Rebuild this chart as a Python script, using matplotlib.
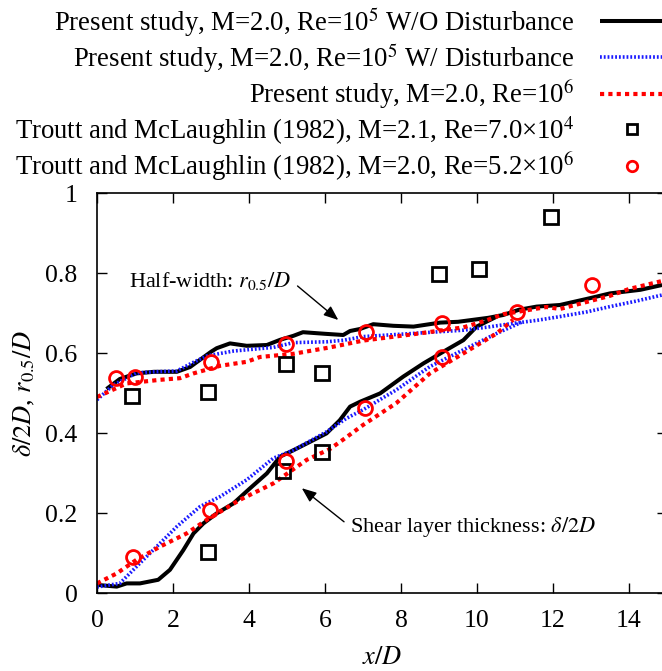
import matplotlib
matplotlib.use('Agg')
import matplotlib.pyplot as plt

plt.rcParams['font.family'] = 'Liberation Serif'
plt.rcParams['mathtext.fontset'] = 'stix'

# Present study, W/O disturbance (black solid)
bk_half_x = [0.25, 0.6, 1.04, 1.5, 2.1, 2.45, 2.71, 3.0, 3.15, 3.5, 3.94, 4.47, 4.82, 5.17, 5.42, 6.0, 6.48, 6.66, 6.92, 7.27, 7.8, 8.33, 9.03, 9.5, 9.9, 10.3, 10.69, 11.1, 11.57, 12.18, 12.97, 13.5, 14.3, 14.87]
bk_half_y = [0.51, 0.535, 0.549, 0.553, 0.553, 0.565, 0.583, 0.603, 0.612, 0.624, 0.618, 0.62, 0.633, 0.643, 0.652, 0.648, 0.645, 0.655, 0.66, 0.672, 0.668, 0.666, 0.676, 0.678, 0.683, 0.688, 0.695, 0.708, 0.716, 0.72, 0.737, 0.749, 0.758, 0.77]
bk_shear_x = [0.03, 0.52, 0.78, 1.13, 1.61, 1.92, 2.27, 2.54, 2.8, 3.15, 3.59, 4.03, 4.47, 4.82, 5.17, 5.69, 6.04, 6.39, 6.66, 6.92, 7.45, 8.06, 8.59, 9.11, 9.64, 9.99, 10.52]
bk_shear_y = [0.02, 0.016, 0.024, 0.024, 0.033, 0.058, 0.107, 0.149, 0.174, 0.199, 0.224, 0.262, 0.299, 0.341, 0.357, 0.382, 0.399, 0.432, 0.466, 0.478, 0.499, 0.541, 0.574, 0.603, 0.632, 0.666, 0.691]

# Present study, W/ disturbance (blue dotted)
bl_half_x = [0.0, 0.43, 1.04, 1.5, 2.1, 2.5, 2.9, 3.6, 4.64, 5.17, 6.04, 6.5, 7.0, 8.33, 9.64, 10.3, 10.95, 11.6, 12.18, 12.9, 13.5, 14.2, 14.87]
bl_half_y = [0.483, 0.52, 0.55, 0.553, 0.555, 0.575, 0.593, 0.605, 0.614, 0.626, 0.628, 0.632, 0.641, 0.649, 0.657, 0.665, 0.674, 0.682, 0.691, 0.703, 0.716, 0.73, 0.745]
bl_shear_x = [0.0, 0.6, 1.04, 1.57, 2.1, 2.71, 3.24, 3.94, 4.64, 5.17, 6.04, 6.57, 7.0, 7.88, 8.76, 9.64, 10.52, 11.2]
bl_shear_y = [0.015, 0.024, 0.066, 0.116, 0.166, 0.216, 0.241, 0.283, 0.337, 0.357, 0.403, 0.437, 0.458, 0.508, 0.566, 0.608, 0.649, 0.678]

# Present study, Re=1e6 (red dotted)
rd_half_x = [0.0, 0.78, 1.66, 2.18, 2.54, 3.24, 3.94, 4.29, 5.17, 6.13, 7.0, 8.33, 9.64, 10.2, 10.69, 11.83, 12.18, 13.5, 14.0, 14.87]
rd_half_y = [0.49, 0.524, 0.533, 0.537, 0.549, 0.568, 0.578, 0.59, 0.598, 0.614, 0.631, 0.647, 0.664, 0.68, 0.697, 0.715, 0.71, 0.743, 0.76, 0.78]
rd_shear_x = [0.0, 0.52, 1.04, 1.66, 2.36, 2.89, 3.76, 4.64, 5.52, 6.13, 6.5, 7.0, 7.88, 8.76, 9.64, 10.52, 10.95]
rd_shear_y = [0.024, 0.049, 0.083, 0.116, 0.149, 0.183, 0.233, 0.274, 0.333, 0.36, 0.385, 0.42, 0.475, 0.549, 0.599, 0.649, 0.683]

# Troutt and McLaughlin (1982)
tm21_x = [0.91, 2.93, 4.97, 5.91, 9.01, 10.04, 11.95, 2.93, 4.89, 5.91]
tm21_y = [0.492, 0.502, 0.572, 0.551, 0.797, 0.809, 0.941, 0.103, 0.305, 0.352]
tm20_x = [0.5, 1.0, 2.99, 4.97, 7.08, 9.08, 11.04, 13.02, 0.96, 2.97, 4.97, 7.05, 9.08]
tm20_y = [0.537, 0.539, 0.578, 0.622, 0.653, 0.674, 0.703, 0.769, 0.091, 0.2075, 0.331, 0.463, 0.591]

labels = ['Present study, M=2.0, Re=10$^5$ W/O Disturbance',
          'Present study, M=2.0, Re=10$^5$ W/ Disturbance',
          'Present study, M=2.0, Re=10$^6$',
          'Troutt and McLaughlin (1982), M=2.1, Re=7.0\u00d710$^4$',
          'Troutt and McLaughlin (1982), M=2.0, Re=5.2\u00d710$^6$']

fig = plt.figure(figsize=(6.62, 6.71), dpi=100)
# axes runs a little past the right edge, as in the cropped original
ax = fig.add_axes([97 / 662, 78 / 671, 570 / 662, 400 / 671])

blk = dict(color='black', lw=2.9, solid_capstyle='butt')
blu = dict(color='#1a1aff', lw=2.6, linestyle=(0, (0.5, 0.55)))
red = dict(color='#ff0000', lw=3.0, linestyle=(0, (1, 1)))

ax.plot(bk_half_x, bk_half_y, label=labels[0], **blk)
ax.plot(bk_shear_x, bk_shear_y, **blk)
ax.plot(bl_half_x, bl_half_y, label=labels[1], **blu)
ax.plot(bl_shear_x, bl_shear_y, **blu)
ax.plot(rd_half_x, rd_half_y, label=labels[2], **red)
ax.plot(rd_shear_x, rd_shear_y, **red)
ax.plot(tm21_x, tm21_y, 's', ms=9.5, mfc='none', mec='black', mew=2.0, label=labels[3])
ax.plot(tm20_x, tm20_y, 'o', ms=10, mfc='none', mec='red', mew=2.0, label=labels[4])

ax.set_xlim(0, 15)
ax.set_ylim(0, 1)
ax.set_xticks(range(0, 15, 2))
ax.set_yticks([0, 0.2, 0.4, 0.6, 0.8, 1])
ax.set_yticklabels(['0', '0.2', '0.4', '0.6', '0.8', '1'])
ax.tick_params(direction='in', length=7.5, width=1, top=True, right=True, labelsize=18.5)
ax.tick_params(axis='x', pad=12)
ax.tick_params(axis='y', pad=14)
for s in ax.spines.values():
    s.set_linewidth(1.2)

ax.set_xlabel('$x/D$', fontsize=19)
ax.xaxis.set_label_coords(0.5, -0.135)
ax.set_ylabel(r'$\delta/2D$, $r_{\mathit{0.5}}/D$', fontsize=19)
ax.yaxis.set_label_coords(-0.105, 0.5)

arr = dict(arrowstyle='-|>,head_length=0.55,head_width=0.22', color='black', lw=1.0, shrinkA=3, shrinkB=0)
ax.annotate(r'Half-width: $r_{\mathit{0.5}}/D$', xy=(6.35, 0.6825), xytext=(5.12, 0.78),
            ha='right', va='center', fontsize=16,
            arrowprops=dict(arr, relpos=(1, 0.5)))
ax.annotate(r'Shear layer thickness: $\delta/2D$', xy=(5.39, 0.262), xytext=(6.66, 0.166),
            ha='left', va='center', fontsize=16,
            arrowprops=dict(arr, relpos=(0, 0.5)))

fig.legend(loc='upper right', bbox_to_anchor=(663 / 662, 1 - 5 / 671), frameon=False,
           markerfirst=False, handlelength=2.35, handletextpad=0.95, labelspacing=0.1,
           borderpad=0, borderaxespad=0, fontsize=19.3, markerscale=0.75)

fig.savefig('out.png', dpi=100)
